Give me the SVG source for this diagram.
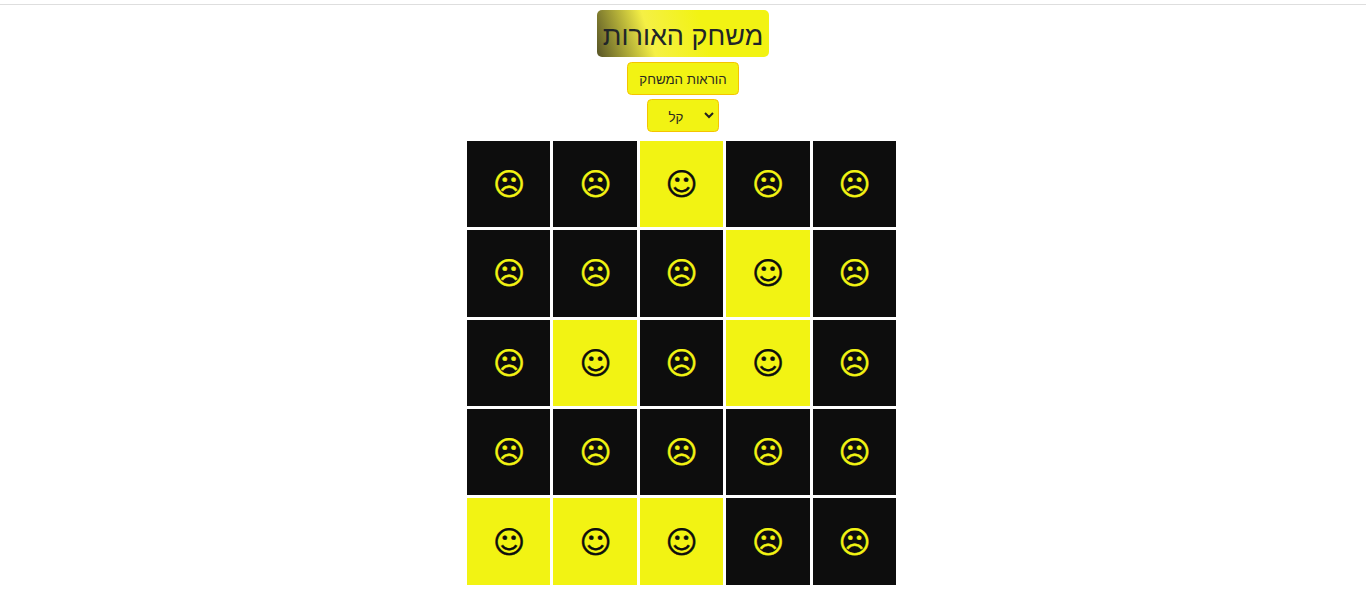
<svg xmlns="http://www.w3.org/2000/svg" width="1366" height="598" viewBox="0 0 1366 598">
<style>
text{font-family:"Liberation Sans","DejaVu Sans",sans-serif;text-anchor:middle}
.d{fill:#0d0d0d}.l{fill:#f2f313}
.f{font-family:"DejaVu Sans",sans-serif;font-size:31px;stroke-width:.4px}
.fy{fill:#f2f313;stroke:#f2f313}.fd{fill:#0d0d0d;stroke:#0d0d0d}
.ui{fill:#f2f313;stroke:#f5c400;stroke-width:1}
</style>
<defs><linearGradient id="g" gradientUnits="userSpaceOnUse" x1="597" y1="50" x2="700" y2="17"><stop offset="0" stop-color="#5d5a28"/><stop offset=".5" stop-color="#f5f045"/><stop offset="1" stop-color="#f2f313"/></linearGradient></defs>
<rect width="1366" height="598" fill="#fff"/>
<rect x="0" y="4" width="1366" height="1" fill="#dedede"/>
<g id="title"><rect x="597" y="10" width="172" height="47" rx="5" fill="url(#g)"/><text x="683" y="45" font-size="27" fill="#212529">משחק האורות</text></g>
<g id="instructions"><rect class="ui" x="627.500" y="62.500" width="111" height="32" rx="4"/><text x="683" y="84" font-size="13.300" fill="#2a2a20">הוראות המשחק</text></g>
<g id="level"><rect class="ui" x="647.500" y="99.500" width="71" height="32" rx="4"/><text x="676" y="122" font-size="13.300" fill="#2a2a20">קל</text><path d="M705 113l4 4 4-4" fill="none" stroke="#222" stroke-width="2"/></g>
<g id="c00"><rect class="d" x="467" y="141" width="83" height="86"/><text class="f fy" x="509" y="195">☹</text></g>
<g id="c01"><rect class="d" x="553" y="141" width="84" height="86"/><text class="f fy" x="595.500" y="195">☹</text></g>
<g id="c02"><rect class="l" x="640" y="141" width="83" height="86"/><text class="f fd" x="681.500" y="195">☺</text></g>
<g id="c03"><rect class="d" x="726" y="141" width="84" height="86"/><text class="f fy" x="768" y="195">☹</text></g>
<g id="c04"><rect class="d" x="813" y="141" width="83" height="86"/><text class="f fy" x="854.500" y="195">☹</text></g>
<g id="c10"><rect class="d" x="467" y="230" width="83" height="87"/><text class="f fy" x="509" y="284">☹</text></g>
<g id="c11"><rect class="d" x="553" y="230" width="84" height="87"/><text class="f fy" x="595.500" y="284">☹</text></g>
<g id="c12"><rect class="d" x="640" y="230" width="83" height="87"/><text class="f fy" x="681.500" y="284">☹</text></g>
<g id="c13"><rect class="l" x="726" y="230" width="84" height="87"/><text class="f fd" x="768" y="284">☺</text></g>
<g id="c14"><rect class="d" x="813" y="230" width="83" height="87"/><text class="f fy" x="854.500" y="284">☹</text></g>
<g id="c20"><rect class="d" x="467" y="320" width="83" height="86"/><text class="f fy" x="509" y="374">☹</text></g>
<g id="c21"><rect class="l" x="553" y="320" width="84" height="86"/><text class="f fd" x="595.500" y="374">☺</text></g>
<g id="c22"><rect class="d" x="640" y="320" width="83" height="86"/><text class="f fy" x="681.500" y="374">☹</text></g>
<g id="c23"><rect class="l" x="726" y="320" width="84" height="86"/><text class="f fd" x="768" y="374">☺</text></g>
<g id="c24"><rect class="d" x="813" y="320" width="83" height="86"/><text class="f fy" x="854.500" y="374">☹</text></g>
<g id="c30"><rect class="d" x="467" y="409" width="83" height="86"/><text class="f fy" x="509" y="463">☹</text></g>
<g id="c31"><rect class="d" x="553" y="409" width="84" height="86"/><text class="f fy" x="595.500" y="463">☹</text></g>
<g id="c32"><rect class="d" x="640" y="409" width="83" height="86"/><text class="f fy" x="681.500" y="463">☹</text></g>
<g id="c33"><rect class="d" x="726" y="409" width="84" height="86"/><text class="f fy" x="768" y="463">☹</text></g>
<g id="c34"><rect class="d" x="813" y="409" width="83" height="86"/><text class="f fy" x="854.500" y="463">☹</text></g>
<g id="c40"><rect class="l" x="467" y="498" width="83" height="87"/><text class="f fd" x="509" y="552.500">☺</text></g>
<g id="c41"><rect class="l" x="553" y="498" width="84" height="87"/><text class="f fd" x="595.500" y="552.500">☺</text></g>
<g id="c42"><rect class="l" x="640" y="498" width="83" height="87"/><text class="f fd" x="681.500" y="552.500">☺</text></g>
<g id="c43"><rect class="d" x="726" y="498" width="84" height="87"/><text class="f fy" x="768" y="552.500">☹</text></g>
<g id="c44"><rect class="d" x="813" y="498" width="83" height="87"/><text class="f fy" x="854.500" y="552.500">☹</text></g>
</svg>
